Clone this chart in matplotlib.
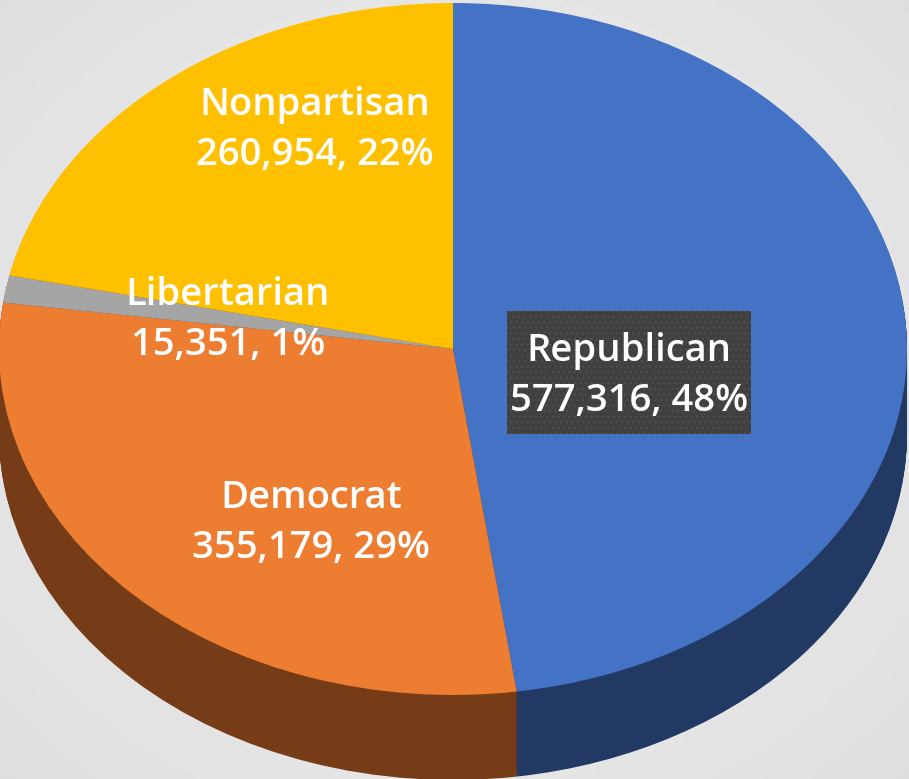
import numpy as np
import matplotlib
matplotlib.use("Agg")
import matplotlib.pyplot as plt
from matplotlib.patches import Rectangle
from matplotlib.transforms import Affine2D

parties = ["Republican", "Democrat", "Libertarian", "Nonpartisan"]
votes = [577316, 355179, 15351, 260954]
percents = ["48%", "29%", "1%", "22%"]
top_colors = ["#4472C4", "#ED7D31", "#A5A5A5", "#FFC000"]
side_colors = ["#213963", "#763C17", "#525252", "#806000"]

W, H = 909, 779
CX, CY = 453, 349
RX, RY = 454, 346
DEPTH = 85

plt.rcParams["font.family"] = ["Open Sans", "DejaVu Sans"]
plt.rcParams["hatch.linewidth"] = 0.5

fig = plt.figure(figsize=(W / 100, H / 100), dpi=100)

# light grey background, brighter in the middle
bg = fig.add_axes([0, 0, 1, 1])
yy, xx = np.mgrid[0:1:200j, 0:1:200j]
dist = np.hypot(xx - 0.5, yy - 0.5) / 0.707
bg.imshow(0.96 - 0.09 * dist, cmap="gray", vmin=0, vmax=1, extent=[0, 1, 0, 1], aspect="auto")
bg.axis("off")

ax = fig.add_axes([0, 0, 1, 1])
ax.patch.set_alpha(0)


def squash(dy):
    # unit pie -> flattened ellipse in pixel coordinates
    return Affine2D().scale(RX, -RY).translate(CX, CY + dy) + ax.transData


# the side wall: same pie stacked downwards
for k in range(DEPTH, 0, -1):
    wedges, _ = ax.pie(votes, colors=side_colors, startangle=90, counterclock=False, frame=False)
    for w in wedges:
        w.set_transform(squash(k))

wedges, _ = ax.pie(votes, colors=top_colors, startangle=90, counterclock=False, frame=False)
for w in wedges:
    w.set_transform(squash(0))

ax.set_aspect("auto")
ax.set_xlim(0, W)
ax.set_ylim(H, 0)
ax.axis("off")

# dark dotted box behind the Republican label
ax.add_patch(Rectangle((507, 311), 244, 123, fc="#404040", ec="#555555", hatch="...", lw=0, zorder=4))

# labels
label_pos = [(629, 376), (311, 523), (228, 320), (315, 130)]
for i, name in enumerate(parties):
    txt = f"{name}\n{votes[i]:,}, {percents[i]}"
    ax.text(label_pos[i][0], label_pos[i][1], txt, color="white", fontsize=27.5,
            fontweight="semibold", ha="center", va="center", linespacing=1.42, zorder=5)

fig.savefig("out.png", dpi=100)
